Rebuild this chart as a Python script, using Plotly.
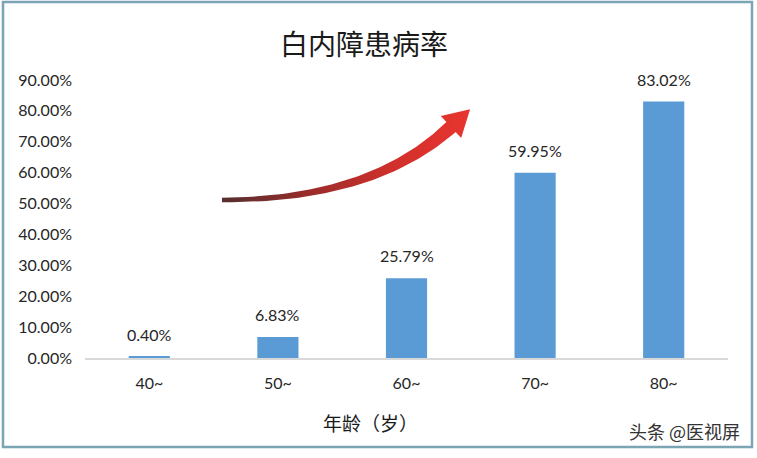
import numpy as np
import plotly.graph_objects as go

# ---- data ----
categories = ["40~", "50~", "60~", "70~", "80~"]
values = [0.40, 6.83, 25.79, 59.95, 83.02]
value_labels = ["0.40%", "6.83%", "25.79%", "59.95%", "83.02%"]
y_ticks = [0, 10, 20, 30, 40, 50, 60, 70, 80, 90]
y_tick_labels = ["0.00%", "10.00%", "20.00%", "30.00%", "40.00%",
                 "50.00%", "60.00%", "70.00%", "80.00%", "90.00%"]
title_text = "白内障患病率"
x_title_text = "年龄（岁）"
watermark_text = "头条 @医视屏"

W, H = 757, 458
L, R, T, B = 85, 29, 80, 100
PW, PH = W - L - R, H - T - B

def px(x):
    return (x - L) / PW

def py(y):
    return (H - B - y) / PH

FONT = "Lato, 'Noto Sans CJK SC', sans-serif"
CJK = "'Noto Sans CJK SC', sans-serif"
TXT = "#262626"

fig = go.Figure()
fig.add_trace(go.Bar(
    x=categories, y=values, width=0.32,
    marker=dict(color="#5b9bd5", line=dict(width=0)),
    hoverinfo="skip", showlegend=False,
))

# data labels
for c, v, lab in zip(categories, values, value_labels):
    fig.add_annotation(x=c, y=v, text=lab, showarrow=False, yanchor="bottom",
                       yshift=11, font=dict(family=FONT, size=16, color=TXT))

# ---- decorative curved arrow (pixel-space overlay axes) ----
P0, P1, P2 = np.array([222.0, 200.0]), np.array([372.0, 200.0]), np.array([451.0, 127.0])
t = np.linspace(0, 1, 60)
pts = ((1 - t) ** 2)[:, None] * P0 + (2 * (1 - t) * t)[:, None] * P1 + (t ** 2)[:, None] * P2
d = (2 * (1 - t))[:, None] * (P1 - P0) + (2 * t)[:, None] * (P2 - P1)
d = d / np.linalg.norm(d, axis=1)[:, None]
n = np.stack([d[:, 1], -d[:, 0]], axis=1)
hw = 2.2 + 4.6 * t ** 1.3
upper = pts + n * hw[:, None]
lower = pts - n * hw[:, None]
tip = P2 + d[-1] * 26
barb1 = P2 + n[-1] * 15
barb2 = P2 - n[-1] * 15
poly = np.vstack([upper, barb1[None], tip[None], barb2[None], lower[::-1], upper[:1]])
fig.add_trace(go.Scatter(
    x=poly[:, 0], y=poly[:, 1], mode="lines", fill="toself",
    line=dict(width=0, color="rgba(0,0,0,0)"),
    fillgradient=dict(type="horizontal",
                      colorscale=[[0, "#553030"], [0.35, "#9a2c2a"], [0.7, "#d2302c"], [1, "#e8352f"]]),
    xaxis="x2", yaxis="y2", hoverinfo="skip", showlegend=False,
))

fig.update_layout(
    width=W, height=H,
    margin=dict(l=L, r=R, t=T, b=B, pad=0),
    paper_bgcolor="white", plot_bgcolor="white",
    title=dict(text=title_text, x=364 / W, xanchor="center", y=1 - 45 / H, yanchor="middle",
               font=dict(family=CJK, size=28, color="#1a1a1a")),
    xaxis=dict(type="category", showgrid=False, zeroline=False, showline=True,
               linecolor="#d9d9d9", linewidth=1.5, ticks="", ticklabelstandoff=10,
               tickfont=dict(family=FONT, size=16, color=TXT), fixedrange=True),
    yaxis=dict(range=[0, 90], tickmode="array", tickvals=y_ticks, ticktext=y_tick_labels,
               showgrid=False, zeroline=False, showline=False, ticks="",
               ticklabelstandoff=12, tickfont=dict(family=FONT, size=16, color=TXT),
               fixedrange=True),
    xaxis2=dict(overlaying="x", range=[L, W - R], visible=False, fixedrange=True),
    yaxis2=dict(overlaying="y", range=[H - B, T], visible=False, fixedrange=True),
    shapes=[dict(type="rect", xref="paper", yref="paper",
                 x0=px(3), x1=px(752), y0=py(447), y1=py(2),
                 line=dict(color="#7ba4b4", width=2.5), fillcolor="rgba(0,0,0,0)", layer="below")],
)

fig.add_annotation(xref="paper", yref="paper", x=px(370), y=py(423), text=x_title_text,
                   showarrow=False, xanchor="center", yanchor="middle",
                   font=dict(family=CJK, size=19, color="#1a1a1a"))
fig.add_annotation(xref="paper", yref="paper", x=px(742), y=py(431), text=watermark_text,
                   showarrow=False, xanchor="right", yanchor="middle",
                   font=dict(family=CJK, size=18, color="#333333"))

fig.write_html("out.html", config={"displayModeBar": False},
               post_script="document.body.style.margin='0';document.body.style.padding='0';"
                           "document.body.style.overflow='hidden';")
